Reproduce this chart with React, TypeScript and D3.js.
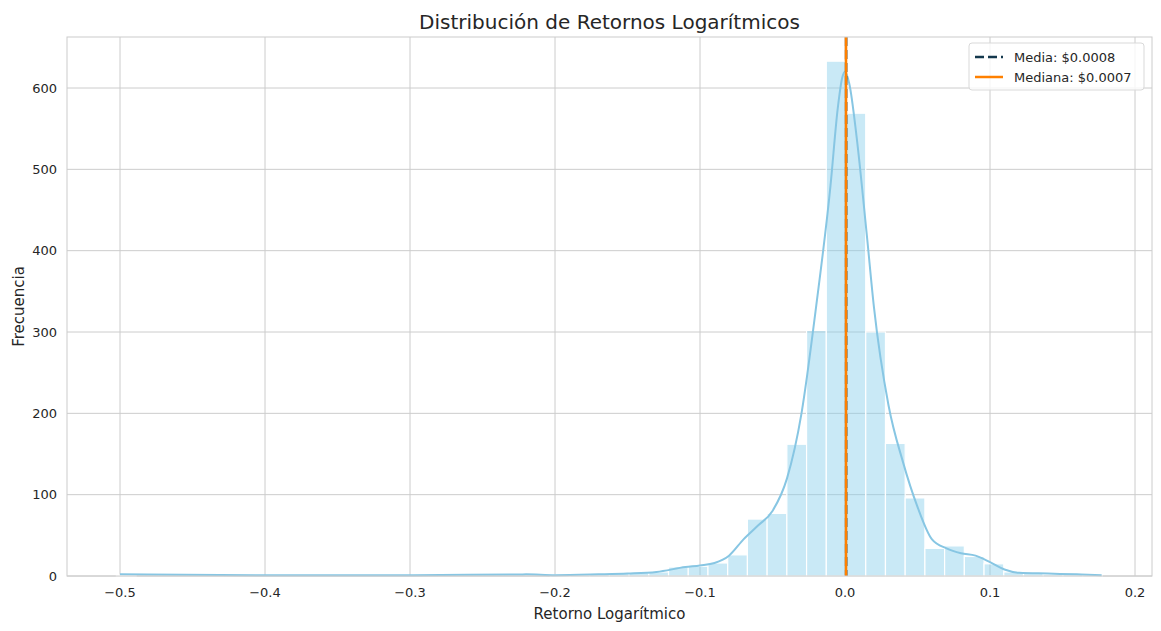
import React from 'react';
import * as d3 from 'd3';

// histogram: 50 bins from -0.5025, width 0.0136
const binStart = -0.5025;
const binWidth = 0.0136;
const binCounts = [
  1, 0, 0, 0, 0, 0, 0, 0, 0, 0, 0, 0, 0, 0, 0, 0, 0, 0, 0, 0, 0, 0,
  1, 1, 2, 3, 4, 5, 11, 12, 16, 26, 70, 77, 162, 302, 633, 569,
  300, 163, 96, 34, 37, 24, 15, 5, 3, 2, 2, 1,
];
const kdeX = [-0.5, -0.4, -0.3, -0.22, -0.2, -0.17, -0.15, -0.13, -0.11, -0.1, -0.09, -0.08, -0.07, -0.06, -0.05, -0.04, -0.03, -0.02, -0.01, -0.005, -0.002, 0, 0.003, 0.008, 0.015, 0.02, 0.03, 0.04, 0.05, 0.06, 0.07, 0.08, 0.09, 0.1, 0.11, 0.12, 0.14, 0.16, 0.177];
const kdeY = [2, 1, 1, 2, 1, 2, 3, 5, 11, 13, 16, 25, 45, 62, 80, 120, 200, 330, 480, 575, 612, 620, 605, 540, 420, 330, 210, 140, 85, 45, 34, 28, 25, 17, 8, 4, 3, 2, 1];
const xTicks = [-0.5, -0.4, -0.3, -0.2, -0.1, 0.0, 0.1, 0.2];
const yTicks = [0, 100, 200, 300, 400, 500, 600];
const mean = 0.0008;
const median = 0.0007;

const W = 1161, H = 631;
const m = { l: 67, r: 1152, t: 37, b: 576 };

export default function App() {
  const x = d3.scaleLinear().domain([-0.5, 0.2]).range([120, 1135]);
  const y = d3.scaleLinear().domain([0, 600]).range([m.b, 88]);
  const line = d3.line<number>().x((_, i) => x(kdeX[i])).y((d) => y(d)).curve(d3.curveMonotoneX);
  const font = 'DejaVu Sans, sans-serif';
  return (
    <svg width={W} height={H} style={{ position: 'absolute', left: 0, top: 0, fontFamily: font }}>
      <rect width={W} height={H} fill="#fff" />
      {xTicks.map((t) => (
        <g key={t}>
          <line x1={x(t)} x2={x(t)} y1={m.t} y2={m.b} stroke="#cccccc" />
          <text x={x(t)} y={m.b + 21} textAnchor="middle" fontSize={13} fill="#262626">{t.toFixed(1).replace('-', '−')}</text>
        </g>
      ))}
      {yTicks.map((t) => (
        <g key={t}>
          <line x1={m.l} x2={m.r} y1={y(t)} y2={y(t)} stroke="#cccccc" />
          <text x={m.l - 10} y={y(t) + 4.5} textAnchor="end" fontSize={13} fill="#262626">{t}</text>
        </g>
      ))}
      {binCounts.map((c, i) => c > 0 && (
        <rect key={i} x={x(binStart + i * binWidth)} width={x(binWidth) - x(0)} y={y(c)} height={m.b - y(c)}
          fill="#87ceeb" fillOpacity={0.45} stroke="#fff" strokeWidth={1.2} />
      ))}
      <path d={line(kdeY) ?? ''} fill="none" stroke="#87c6e3" strokeWidth={2} />
      <line x1={x(mean)} x2={x(mean)} y1={m.t} y2={m.b} stroke="#14384d" strokeWidth={2.5} strokeDasharray="9,4" />
      <line x1={x(median)} x2={x(median)} y1={m.t} y2={m.b} stroke="#ff8000" strokeWidth={2.5} />
      <rect x={m.l} y={m.t} width={m.r - m.l} height={m.b - m.t} fill="none" stroke="#cccccc" strokeWidth={1} />
      <text x={(m.l + m.r) / 2} y={29} textAnchor="middle" fontSize={20} fill="#262626">Distribución de Retornos Logarítmicos</text>
      <text x={(m.l + m.r) / 2} y={619} textAnchor="middle" fontSize={15} fill="#262626">Retorno Logarítmico</text>
      <text transform={`translate(24,${(m.t + m.b) / 2}) rotate(-90)`} textAnchor="middle" fontSize={15} fill="#262626">Frecuencia</text>
      <g transform="translate(969,43)">
        <rect width={175} height={47} rx={3} fill="#fff" fillOpacity={0.8} stroke="#d9d9d9" />
        <line x1={6} x2={34} y1={14} y2={14} stroke="#14384d" strokeWidth={2.5} strokeDasharray="9,4" />
        <text x={45} y={18.5} fontSize={13} fill="#262626">Media: $0.0008</text>
        <line x1={6} x2={34} y1={34} y2={34} stroke="#ff8000" strokeWidth={2.5} />
        <text x={45} y={38.5} fontSize={13} fill="#262626">Mediana: $0.0007</text>
      </g>
    </svg>
  );
}
